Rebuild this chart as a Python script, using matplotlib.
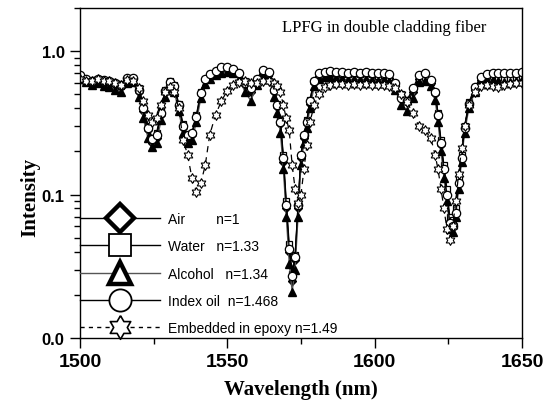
import numpy as np
import matplotlib
matplotlib.use("Agg")
import matplotlib.pyplot as plt
from matplotlib.lines import Line2D
from matplotlib.ticker import FixedLocator, MultipleLocator, FuncFormatter, NullFormatter, LogLocator

# wavelength grid (nm), shared by all five spectra
wavelength = [
    1500, 1502, 1504, 1506, 1508, 1510, 1512, 1514, 1516, 1518,
    1520, 1521.5, 1523, 1524.5, 1526, 1527.5, 1529, 1530.5, 1532, 1533.5,
    1535, 1536.5, 1538, 1539.5, 1541, 1542.5, 1544, 1546, 1548, 1550,
    1552, 1554, 1556, 1558, 1560, 1562, 1564, 1566, 1567, 1568,
    1569, 1570, 1571, 1572, 1573, 1574, 1575, 1576, 1577, 1578,
    1579.5, 1581, 1583, 1585, 1587, 1589, 1591, 1593, 1595, 1597,
    1599, 1601, 1603, 1605, 1607, 1609, 1611, 1613, 1615, 1617,
    1619, 1620.5, 1621.5, 1622.5, 1623.5, 1624.5, 1625.5, 1626.5, 1627.5, 1628.5,
    1629.5, 1630.5, 1632, 1634, 1636, 1638, 1640, 1642, 1644, 1646,
    1648, 1650,
]

air = [
    0.66, 0.63, 0.61, 0.63, 0.61, 0.60, 0.58, 0.56, 0.63, 0.64,
    0.52, 0.38, 0.28, 0.23, 0.25, 0.36, 0.52, 0.60, 0.56, 0.41,
    0.29, 0.25, 0.26, 0.34, 0.50, 0.63, 0.67, 0.71, 0.74, 0.75,
    0.73, 0.69, 0.58, 0.52, 0.62, 0.72, 0.70, 0.52, 0.41, 0.31,
    0.17, 0.08, 0.04, 0.025, 0.035, 0.08, 0.18, 0.25, 0.31, 0.43,
    0.60, 0.67, 0.70, 0.70, 0.69, 0.68, 0.68, 0.69, 0.68, 0.69,
    0.68, 0.66, 0.67, 0.65, 0.58, 0.47, 0.44, 0.52, 0.64, 0.65,
    0.60, 0.50, 0.35, 0.22, 0.15, 0.10, 0.065, 0.062, 0.075, 0.12,
    0.18, 0.29, 0.42, 0.54, 0.63, 0.66, 0.66, 0.65, 0.64, 0.64,
    0.65, 0.66,
]

water = [
    0.65, 0.64, 0.62, 0.64, 0.62, 0.61, 0.60, 0.57, 0.64, 0.65,
    0.55, 0.40, 0.30, 0.25, 0.27, 0.38, 0.54, 0.62, 0.58, 0.43,
    0.31, 0.26, 0.27, 0.36, 0.52, 0.64, 0.69, 0.73, 0.76, 0.76,
    0.74, 0.70, 0.62, 0.56, 0.64, 0.73, 0.71, 0.55, 0.43, 0.33,
    0.19, 0.09, 0.045, 0.028, 0.038, 0.085, 0.19, 0.26, 0.33, 0.46,
    0.62, 0.68, 0.70, 0.71, 0.70, 0.69, 0.69, 0.70, 0.69, 0.70,
    0.69, 0.67, 0.68, 0.66, 0.60, 0.50, 0.46, 0.54, 0.65, 0.66,
    0.61, 0.52, 0.37, 0.24, 0.16, 0.11, 0.07, 0.066, 0.08, 0.13,
    0.19, 0.30, 0.44, 0.56, 0.64, 0.67, 0.67, 0.66, 0.65, 0.65,
    0.66, 0.67,
]

alcohol = [
    0.64, 0.61, 0.58, 0.60, 0.57, 0.56, 0.54, 0.52, 0.60, 0.61,
    0.48, 0.34, 0.25, 0.215, 0.23, 0.33, 0.48, 0.56, 0.52, 0.38,
    0.27, 0.23, 0.24, 0.32, 0.47, 0.59, 0.64, 0.68, 0.71, 0.72,
    0.70, 0.64, 0.52, 0.45, 0.58, 0.68, 0.66, 0.48, 0.37, 0.27,
    0.15, 0.07, 0.033, 0.021, 0.03, 0.07, 0.16, 0.23, 0.29, 0.40,
    0.57, 0.64, 0.66, 0.66, 0.65, 0.64, 0.63, 0.64, 0.63, 0.64,
    0.63, 0.62, 0.63, 0.62, 0.54, 0.42, 0.38, 0.47, 0.61, 0.62,
    0.57, 0.46, 0.32, 0.20, 0.13, 0.09, 0.058, 0.055, 0.07, 0.11,
    0.17, 0.27, 0.40, 0.52, 0.61, 0.63, 0.63, 0.62, 0.61, 0.61,
    0.62, 0.63,
]

index_oil = [
    0.68, 0.64, 0.62, 0.64, 0.63, 0.62, 0.60, 0.58, 0.65, 0.65,
    0.54, 0.40, 0.29, 0.245, 0.26, 0.37, 0.53, 0.61, 0.57, 0.42,
    0.30, 0.26, 0.27, 0.35, 0.51, 0.64, 0.69, 0.73, 0.77, 0.77,
    0.75, 0.71, 0.60, 0.55, 0.64, 0.74, 0.72, 0.54, 0.42, 0.32,
    0.18, 0.085, 0.042, 0.027, 0.037, 0.085, 0.19, 0.26, 0.32, 0.45,
    0.62, 0.70, 0.72, 0.73, 0.72, 0.72, 0.71, 0.72, 0.71, 0.72,
    0.71, 0.70, 0.71, 0.69, 0.60, 0.47, 0.45, 0.55, 0.68, 0.70,
    0.63, 0.52, 0.36, 0.23, 0.15, 0.10, 0.063, 0.06, 0.075, 0.12,
    0.18, 0.29, 0.43, 0.56, 0.66, 0.69, 0.70, 0.70, 0.70, 0.70,
    0.71, 0.72,
]

epoxy = [
    0.64, 0.62, 0.62, 0.64, 0.62, 0.62, 0.60, 0.58, 0.63, 0.62,
    0.55, 0.45, 0.36, 0.32, 0.34, 0.42, 0.52, 0.56, 0.52, 0.40,
    0.24, 0.19, 0.13, 0.105, 0.12, 0.16, 0.26, 0.36, 0.45, 0.53,
    0.58, 0.61, 0.62, 0.60, 0.60, 0.62, 0.62, 0.60, 0.57, 0.52,
    0.42, 0.34, 0.28, 0.16, 0.11, 0.088, 0.10, 0.15, 0.22, 0.32,
    0.42, 0.50, 0.56, 0.58, 0.59, 0.59, 0.58, 0.59, 0.58, 0.59,
    0.58, 0.58, 0.58, 0.57, 0.55, 0.50, 0.44, 0.37, 0.30, 0.28,
    0.25, 0.19, 0.15, 0.11, 0.08, 0.058, 0.048, 0.06, 0.09, 0.14,
    0.21, 0.30, 0.42, 0.52, 0.57, 0.58, 0.57, 0.56, 0.58, 0.59,
    0.60, 0.60,
]

labels = [
    "Air        n=1",
    "Water   n=1.33",
    "Alcohol   n=1.34",
    "Index oil  n=1.468",
    "Embedded in epoxy n=1.49",
]

# six-pointed star (two overlapping triangles) outline
star_verts = []
for k in range(12):
    ang = np.pi / 2 + k * np.pi / 6
    r = 1.0 if k % 2 == 0 else 1 / np.sqrt(3)
    star_verts.append((r * np.cos(ang), r * np.sin(ang)))
star_verts.append(star_verts[0])

# data marker styles
styles = [
    dict(marker="D", mfc="black", mec="black", mew=1.0, ms=4.5, color="black", ls="-"),
    dict(marker="s", mfc="white", mec="black", mew=0.9, ms=5, color="black", ls="-"),
    dict(marker="^", mfc="black", mec="black", mew=1.0, ms=5.5, color="#555555", ls="-"),
    dict(marker="o", mfc="white", mec="black", mew=0.9, ms=6, color="black", ls="-"),
    dict(marker=star_verts, mfc="white", mec="black", mew=0.8, ms=7, color="black",
         ls=(0, (5, 4))),
]
series = [air, water, alcohol, index_oil, epoxy]

# legend marker styles (bigger, thick outlines)
leg_styles = [
    dict(marker="D", mfc="white", mec="black", mew=3.2, ms=14, color="black", ls="-"),
    dict(marker="s", mfc="white", mec="black", mew=1.3, ms=16, color="black", ls="-"),
    dict(marker="^", mfc="white", mec="black", mew=3.2, ms=16, color="#555555", ls="-"),
    dict(marker="o", mfc="white", mec="black", mew=1.3, ms=16, color="black", ls="-"),
    dict(marker=star_verts, mfc="white", mec="black", mew=1.2, ms=17, color="black",
         ls=(0, (3, 3))),
]

plt.rcParams["font.family"] = ["Liberation Sans", "DejaVu Sans"]

fig = plt.figure(figsize=(5.51, 4.06), dpi=100)
ax = fig.add_axes([80 / 551, 67 / 406, 442 / 551, 330 / 406])

for vals, st in zip(series, styles):
    ax.plot(wavelength, vals, lw=0.9, **st)

ax.set_yscale("log")
ax.set_ylim(0.01, 2.0)
ax.set_xlim(1500, 1650)
ax.xaxis.set_major_locator(MultipleLocator(50))
ax.xaxis.set_minor_locator(MultipleLocator(25))
ax.yaxis.set_major_locator(FixedLocator([0.01, 0.1, 1.0]))
ax.yaxis.set_major_formatter(FuncFormatter(lambda v, p: f"{v:.1f}"))
ax.yaxis.set_minor_locator(LogLocator(base=10, subs=np.arange(2, 10)))
ax.yaxis.set_minor_formatter(NullFormatter())

for s in ax.spines.values():
    s.set_linewidth(1.0)
ax.tick_params(which="major", direction="out", length=7, width=1.0, top=False, right=False)
ax.tick_params(which="minor", direction="out", length=4, width=1.0, top=False, right=False)
ax.tick_params(axis="x", which="major", labelsize=14, pad=4)
ax.tick_params(axis="y", which="major", labelsize=12, pad=4)
for lab in ax.get_xticklabels() + ax.get_yticklabels():
    lab.set_fontweight("bold")

ax.set_xlabel("Wavelength (nm)", family="Liberation Serif", fontsize=15,
              fontweight="bold", labelpad=6)
ax.set_ylabel("Intensity", family="Liberation Serif", fontsize=15, fontweight="bold")
ax.yaxis.set_label_coords(-0.09, 0.43)

ax.text(0.457, 0.942, "LPFG in double cladding fiber", transform=ax.transAxes,
        family="Liberation Serif", fontsize=12, ha="left", va="center")

handles = [Line2D([], [], lw=1.0, **st) for st in leg_styles]
leg = ax.legend(handles, labels, loc="lower left", bbox_to_anchor=(0.0, 0.008),
                frameon=False, fontsize=10, handlelength=5.75, handletextpad=0.58,
                borderpad=0, borderaxespad=0, labelspacing=0.96)

fig.savefig("out.png", dpi=100)
